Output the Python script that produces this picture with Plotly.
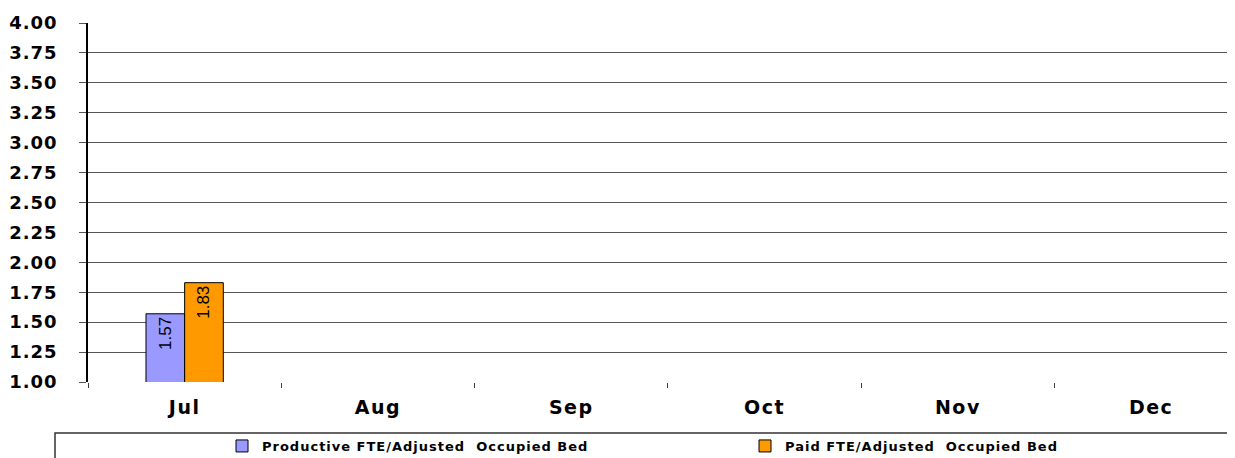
import plotly.graph_objects as go

months = ["Jul", "Aug", "Sep", "Oct", "Nov", "Dec"]
productive = [1.57, 0, 0, 0, 0, 0]
paid = [1.83, 0, 0, 0, 0, 0]
series_names = ["Productive FTE/Adjusted  Occupied Bed", "Paid FTE/Adjusted  Occupied Bed"]
y_ticks = [1.00, 1.25, 1.50, 1.75, 2.00, 2.25, 2.50, 2.75, 3.00, 3.25, 3.50, 3.75, 4.00]

# page body has an 8px margin, so the figure is slightly smaller than the window
OFF = 8
W, H = 1235 - OFF, 458 - OFF
ML, MR, MT = 88 - OFF, 0, 23 - OFF
PW, PH = W - ML - MR, 359
MB = H - MT - PH

def spaced(s, ls):
    return f'<span style="letter-spacing:{ls}px">{s}</span>'

def lbl(vals):
    return [f"{v:.2f}" if v else "" for v in vals]

label_font = dict(family="Liberation Sans, Arial", size=17, color="black")

fig = go.Figure()
fig.add_trace(go.Bar(
    x=months, y=productive, name=spaced(series_names[0], 1.0),
    marker=dict(color="#9999FF", line=dict(color="black", width=1)),
    text=lbl(productive), textposition="inside", textangle=-90,
    insidetextanchor="end", textfont=label_font, constraintext="none",
))
fig.add_trace(go.Bar(
    x=months, y=paid, name=spaced(series_names[1], 1.0),
    marker=dict(color="#FF9900", line=dict(color="black", width=1)),
    text=lbl(paid), textposition="inside", textangle=-90,
    insidetextanchor="end", textfont=label_font, constraintext="none",
))

spacing = 193.3
xmax = PW / spacing - 0.5

fig.update_layout(
    width=W, height=H,
    margin=dict(l=ML, r=MR, t=MT, b=MB, pad=0),
    paper_bgcolor="white", plot_bgcolor="white",
    barmode="group", bargap=0.6, bargroupgap=0,
    showlegend=True,
    legend=dict(
        orientation="h", xref="container", yref="container",
        x=(222 - OFF) / W, xanchor="left", y=1 - (446 - OFF) / H, yanchor="middle",
        entrywidth=478, entrywidthmode="pixels",
        font=dict(family="DejaVu Sans", size=13, color="black", weight="bold"),
        bgcolor="rgba(0,0,0,0)", borderwidth=0,
        itemclick=False,
    ),
    xaxis=dict(
        type="category", range=[-0.5, xmax],
        tickvals=months, ticktext=[spaced(m, 1.5) for m in months],
        showgrid=False, zeroline=False,
        showline=False,
        ticks="outside", tickson="boundaries", ticklen=5, tickwidth=1, tickcolor="#404040",
        tickfont=dict(family="DejaVu Sans", size=19, color="black", weight="bold"),
        ticklabelstandoff=12,
    ),
    yaxis=dict(
        range=[1, 4], tickvals=y_ticks, ticktext=[spaced(f"{v:.2f}", 1) for v in y_ticks],
        showgrid=True, gridcolor="#555555", gridwidth=1,
        zeroline=False,
        showline=True, linecolor="black", linewidth=1.5,
        ticks="outside", ticklen=7, tickwidth=1, tickcolor="#555555",
        tickfont=dict(family="DejaVu Sans", size=18, color="black", weight="bold"),
        ticklabelstandoff=18,
    ),
    shapes=[dict(
        type="rect", xref="paper", yref="paper",
        x0=(55 - 88) / PW, x1=1.05,
        y0=-(433 - 382) / PH, y1=-(490 - 382) / PH,
        line=dict(color="#333333", width=1.5), fillcolor="rgba(0,0,0,0)", layer="below",
    )],
)

fig.write_html("out.html")
